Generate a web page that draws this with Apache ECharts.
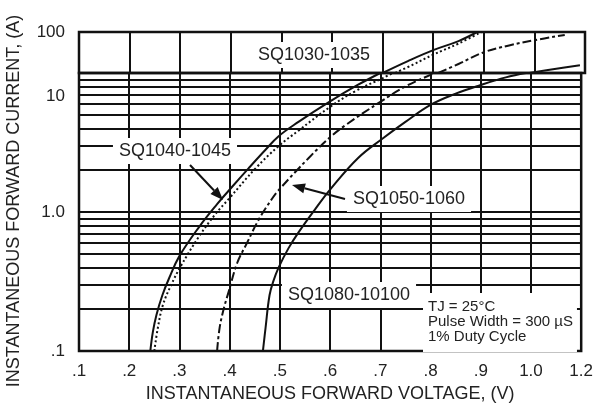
<!DOCTYPE html>
<html>
<head>
<meta charset="utf-8">
<script src="https://cdn.jsdelivr.net/npm/echarts@6/dist/echarts.min.js"></script>
<style>
  html, body { margin: 0; padding: 0; background: #fff; }
  #chart { width: 596px; height: 408px; }
</style>
</head>
<body>
<div id="chart"></div>
<script>
// forward voltage (V) vs forward current (A)
var sq1030 = [[0.242,0.1],[0.2472,0.138],[0.2542,0.182],[0.266,0.252],[0.2798,0.337],[0.2996,0.48],[0.339,0.78],[0.375,1.14],[0.405,1.52],[0.438,2.07],[0.47,2.77],[0.497,3.5],[0.537,4.45],[0.60,6.25],[0.655,8.2],[0.70,10],[0.75,19.5],[0.80,36],[0.85,60],[0.887,100]];
var sq1040 = [[0.250,0.1],[0.257,0.147],[0.267,0.214],[0.283,0.296],[0.303,0.41],[0.339,0.667],[0.372,0.97],[0.398,1.24],[0.452,2.07],[0.497,2.97],[0.537,3.85],[0.602,5.77],[0.65,7.4],[0.705,9.2],[0.725,10],[0.76,16],[0.80,28],[0.85,52],[0.895,100]];
var sq1050 = [[0.375,0.1],[0.380,0.147],[0.3886,0.204],[0.3984,0.27],[0.415,0.43],[0.4346,0.6],[0.4577,0.88],[0.484,1.24],[0.497,1.43],[0.557,2.44],[0.60,3.45],[0.63,4.2],[0.70,6.2],[0.75,8.0],[0.80,9.7],[0.81,10],[0.85,16.6],[0.90,32],[0.95,47],[1.00,63],[1.06,85]];
var sq1080 = [[0.4662,0.1],[0.4715,0.147],[0.4794,0.252],[0.4874,0.321],[0.4972,0.397],[0.517,0.548],[0.5368,0.711],[0.5704,1.05],[0.60,1.45],[0.6553,2.44],[0.7047,3.38],[0.75,4.45],[0.80,5.9],[0.85,7.1],[0.90,8.2],[0.95,9.3],[0.99,10],[1.04,12.5],[1.09,15.5]];

var xTickLabels = ['.1','.2','.3','.4','.5','.6','.7','.8','.9','1.0','1.2'];
var yTickValues = [0.1, 1, 6.8];
var yTickLabels = ['.1','1.0','10'];
var yGridLines = [0.2,0.3,0.4,0.5,0.6,0.7,0.8,0.9,1,2,3,4,5,6,7,8,9];

var INK = '#111';
var TXT = '#222';
var FONT = '"Liberation Sans", Arial, sans-serif';

// the top decade (10-100) is squashed in the original, so it gets its own grid
function lower(pts) { return pts.filter(function (p) { return p[1] <= 10; }); }
function upper(pts) { return pts.filter(function (p) { return p[1] >= 10; }); }

function arrow(x1, y1, x2, y2) {
  var a = Math.atan2(y2 - y1, x2 - x1), L = 13, W = 5;
  var bx = x2 - L * Math.cos(a), by = y2 - L * Math.sin(a);
  var nx = -Math.sin(a) * W, ny = Math.cos(a) * W;
  return [
    { type: 'line', z: 120, shape: { x1: x1, y1: y1, x2: bx, y2: by }, style: { stroke: INK, lineWidth: 2 } },
    { type: 'polygon', z: 120, shape: { points: [[x2, y2], [bx + nx, by + ny], [bx - nx, by - ny]] }, style: { fill: INK } }
  ];
}

function tag(text, x, y, size) {
  return {
    type: 'text', z: 110, x: x, y: y,
    style: {
      text: text, font: size + 'px ' + FONT, fill: TXT,
      align: 'center', verticalAlign: 'middle',
      backgroundColor: '#fff', padding: [4, 6]
    }
  };
}

var lineStyles = [
  { color: INK, width: 2, type: 'solid' },
  { color: INK, width: 2, type: [2, 2.5] },
  { color: INK, width: 2, type: [9, 3, 3, 3] },
  { color: INK, width: 2, type: 'solid' }
];
var curves = [sq1030, sq1040, sq1050, sq1080];
var names = ['SQ1030-1035', 'SQ1040-1045', 'SQ1050-1060', 'SQ1080-10100'];

var series = [];
curves.forEach(function (c, i) {
  series.push({
    name: names[i], type: 'line', xAxisIndex: 1, yAxisIndex: 1,
    data: lower(c), smooth: 0.4, symbol: 'none', silent: true,
    lineStyle: lineStyles[i], z: 10
  });
  series.push({
    name: names[i], type: 'line', xAxisIndex: 0, yAxisIndex: 0,
    data: upper(c), smooth: 0.4, symbol: 'none', silent: true,
    lineStyle: lineStyles[i], z: 10
  });
});
// horizontal log grid lines of the lower two decades
series[0].markLine = {
  silent: true, symbol: 'none', label: { show: false },
  lineStyle: { color: INK, width: 2, type: 'solid' },
  data: yGridLines.map(function (v) { return { yAxis: v }; })
};

var gridBase = { left: 79, right: 11, show: true, borderColor: INK, borderWidth: 2.5 };
var xBase = {
  type: 'value', min: 0.1, max: 1.1, interval: 0.1,
  axisLine: { show: false }, axisTick: { show: false },
  splitLine: { show: true, lineStyle: { color: INK, width: 2 } }
};

var option = {
  backgroundColor: '#fff',
  animation: false,
  grid: [
    Object.assign({ top: 32, height: 41 }, gridBase),
    Object.assign({ top: 73, height: 284 }, gridBase)
  ],
  xAxis: [
    Object.assign({ gridIndex: 0, axisLabel: { show: false } }, xBase),
    Object.assign({
      gridIndex: 1,
      name: 'INSTANTANEOUS FORWARD VOLTAGE, (V)',
      nameLocation: 'middle', nameGap: 31,
      nameTextStyle: { fontFamily: FONT, fontSize: 18, color: TXT },
      axisLabel: {
        margin: 12, fontFamily: FONT, fontSize: 17, color: TXT,
        formatter: function (v) { return xTickLabels[Math.round(v * 10) - 1]; }
      }
    }, xBase)
  ],
  yAxis: [
    {
      gridIndex: 0, type: 'log', logBase: 10, min: 10, max: 100,
      axisLine: { show: false }, axisTick: { show: false }, splitLine: { show: false },
      axisLabel: {
        margin: 14, fontFamily: FONT, fontSize: 17, color: TXT,
        formatter: function (v) { return v >= 99 ? '100' : ''; }
      }
    },
    {
      gridIndex: 1, type: 'log', logBase: 10, min: 0.1, max: 10,
      axisLine: { show: false }, axisTick: { show: false }, splitLine: { show: false },
      axisLabel: {
        margin: 14, fontFamily: FONT, fontSize: 17, color: TXT,
        customValues: yTickValues,
        formatter: function (v) {
          for (var k = 0; k < yTickValues.length; k++) {
            if (Math.abs(v - yTickValues[k]) < 1e-6 * yTickValues[k] + 1e-9) return yTickLabels[k];
          }
          return '';
        }
      }
    }
  ],
  graphic: [
    {
      type: 'text', x: 14, y: 201, rotation: Math.PI / 2,
      style: {
        text: 'INSTANTANEOUS FORWARD CURRENT, (A)', font: '18px ' + FONT,
        fill: TXT, align: 'center', verticalAlign: 'middle'
      }
    },
    tag('SQ1030-1035', 314, 55, 18),
    tag('SQ1040-1045', 175, 151, 18),
    tag('SQ1050-1060', 409, 199, 18),
    tag('SQ1080-10100', 349, 295, 18),
    {
      type: 'text', z: 110, x: 423, y: 293,
      style: {
        text: 'TJ = 25\u00B0C\nPulse Width = 300 \u00B5S\n1% Duty Cycle',
        font: '15px ' + FONT, fill: TXT, lineHeight: 15,
        align: 'left', verticalAlign: 'top',
        backgroundColor: '#fff', padding: [6, 4, 8, 5]
      }
    }
  ].concat(arrow(190, 165, 223, 200), arrow(345, 199, 292, 185)),
  series: series
};

var chart = echarts.init(document.getElementById('chart'), null, { renderer: 'canvas' });
chart.setOption(option);
</script>
</body>
</html>
